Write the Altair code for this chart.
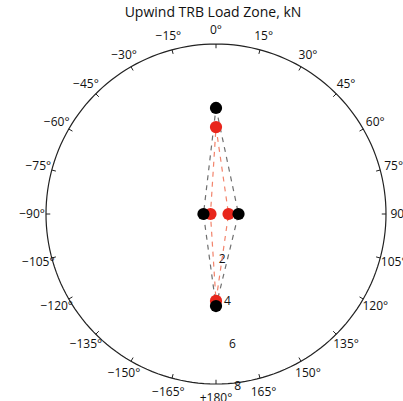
import altair as alt
import pandas as pd

TITLE = "Upwind TRB Load Zone, kN"

ANGLE_TICKS = [0, 15, 30, 45, 60, 75, 90, 105, 120, 135, 150, 165, 180,
               -165, -150, -135, -120, -105, -90, -75, -60, -45, -30, -15]
ANGLE_LABELS = ["0°", "15°", "30°", "45°", "60°", "75°", "90°", "105°", "120°",
                "135°", "150°", "165°", "+180°", "−165°", "−150°", "−135°",
                "−120°", "−105°", "−90°", "−75°", "−60°", "−45°", "−30°", "−15°"]
RADIAL_TICKS = [2, 4, 6, 8]
RADIAL_LABELS = ["2", "4", "6", "8"]
R_MAX = 8

POINT_ANGLES = [0, 90, 180, -90]
BLACK_R = [4.99, 1.06, 4.33, 0.59]
RED_R = [4.09, 0.59, 4.09, 0.26]

FONT = "Open Sans"
W = 340
H = 340

xs = alt.Scale(domain=[-R_MAX, R_MAX], nice=False, zero=False)
ys = alt.Scale(domain=[-R_MAX, R_MAX], nice=False, zero=False)
X = alt.X("x:Q", scale=xs, axis=None)
Y = alt.Y("y:Q", scale=ys, axis=None)

def polar(chart, rfield="r", afield="angle", off=0.0):
    return chart.transform_calculate(
        x=f"datum.{rfield} * sin(datum.{afield} * PI / 180)",
        y=f"datum.{rfield} * cos(datum.{afield} * PI / 180)",
    )

# outer circle
circle = alt.Chart(alt.sequence(0, 361, 2, as_="a")).transform_calculate(
    x=f"{R_MAX} * sin(datum.a * PI / 180)",
    y=f"{R_MAX} * cos(datum.a * PI / 180)",
).mark_line(color="#222222", strokeWidth=1.2).encode(x=X, y=Y, order=alt.Order("a:Q"))

# tick marks on the circle
tick_df = pd.DataFrame({"angle": ANGLE_TICKS, "label": ANGLE_LABELS})
ticks = alt.Chart(tick_df).transform_calculate(
    x=f"{R_MAX} * sin(datum.angle * PI / 180)",
    y=f"{R_MAX} * cos(datum.angle * PI / 180)",
    x2=f"{R_MAX - 0.2} * sin(datum.angle * PI / 180)",
    y2=f"{R_MAX - 0.2} * cos(datum.angle * PI / 180)",
).mark_rule(color="#222222", strokeWidth=1).encode(x=X, y=Y, x2="x2:Q", y2="y2:Q")

angle_labels = alt.Chart(tick_df).transform_calculate(
    x=f"{R_MAX * 1.082} * sin(datum.angle * PI / 180)",
    y=f"{R_MAX * 1.082} * cos(datum.angle * PI / 180)",
).mark_text(font=FONT, fontSize=12, color="#111111", align="center",
            baseline="middle").encode(x=X, y=Y, text="label:N")

rad_df = pd.DataFrame({"r": RADIAL_TICKS, "label": RADIAL_LABELS, "angle": [173] * 4})
rad_labels = polar(alt.Chart(rad_df)).mark_text(
    font=FONT, fontSize=12, color="#111111", align="center", baseline="middle", dx=1, dy=3
).encode(x=X, y=Y, text="label:N")

def line_df(rs):
    return pd.DataFrame({
        "angle": POINT_ANGLES + [POINT_ANGLES[0]],
        "r": rs + [rs[0]],
        "i": list(range(len(rs) + 1)),
    })

black_line = polar(alt.Chart(line_df(BLACK_R))).mark_line(
    color="#6f6f6f", strokeWidth=1.2, strokeDash=[5, 5]
).encode(x=X, y=Y, order=alt.Order("i:Q"))
red_line = polar(alt.Chart(line_df(RED_R))).mark_line(
    color="#f2836b", strokeWidth=1.2, strokeDash=[5, 5]
).encode(x=X, y=Y, order=alt.Order("i:Q"))

pts_black = polar(alt.Chart(pd.DataFrame({"angle": POINT_ANGLES, "r": BLACK_R}))).mark_point(
    filled=True, shape="circle", size=150, color="#000000", opacity=1
).encode(x=X, y=Y)
pts_red = polar(alt.Chart(pd.DataFrame({"angle": POINT_ANGLES, "r": RED_R}))).mark_point(
    filled=True, shape="circle", size=150, color="#e8261c", opacity=1
).encode(x=X, y=Y)

title = alt.Chart(pd.DataFrame({"t": [TITLE]})).mark_text(
    font=FONT, fontSize=14, color="#111111", align="center", baseline="middle"
).encode(x=alt.value(W / 2 - 3), y=alt.value(-31), text="t:N")

chart = alt.layer(
    circle, ticks, angle_labels, rad_labels, black_line, red_line, pts_red, pts_black, title
).properties(
    width=W, height=H,
    autosize=alt.AutoSizeParams(type="none"),
    padding={"left": 46, "top": 44, "right": 17, "bottom": 17},
    background="white",
).configure_view(stroke=None)

chart.save("out.html", embed_options={"renderer": "svg", "actions": False})
